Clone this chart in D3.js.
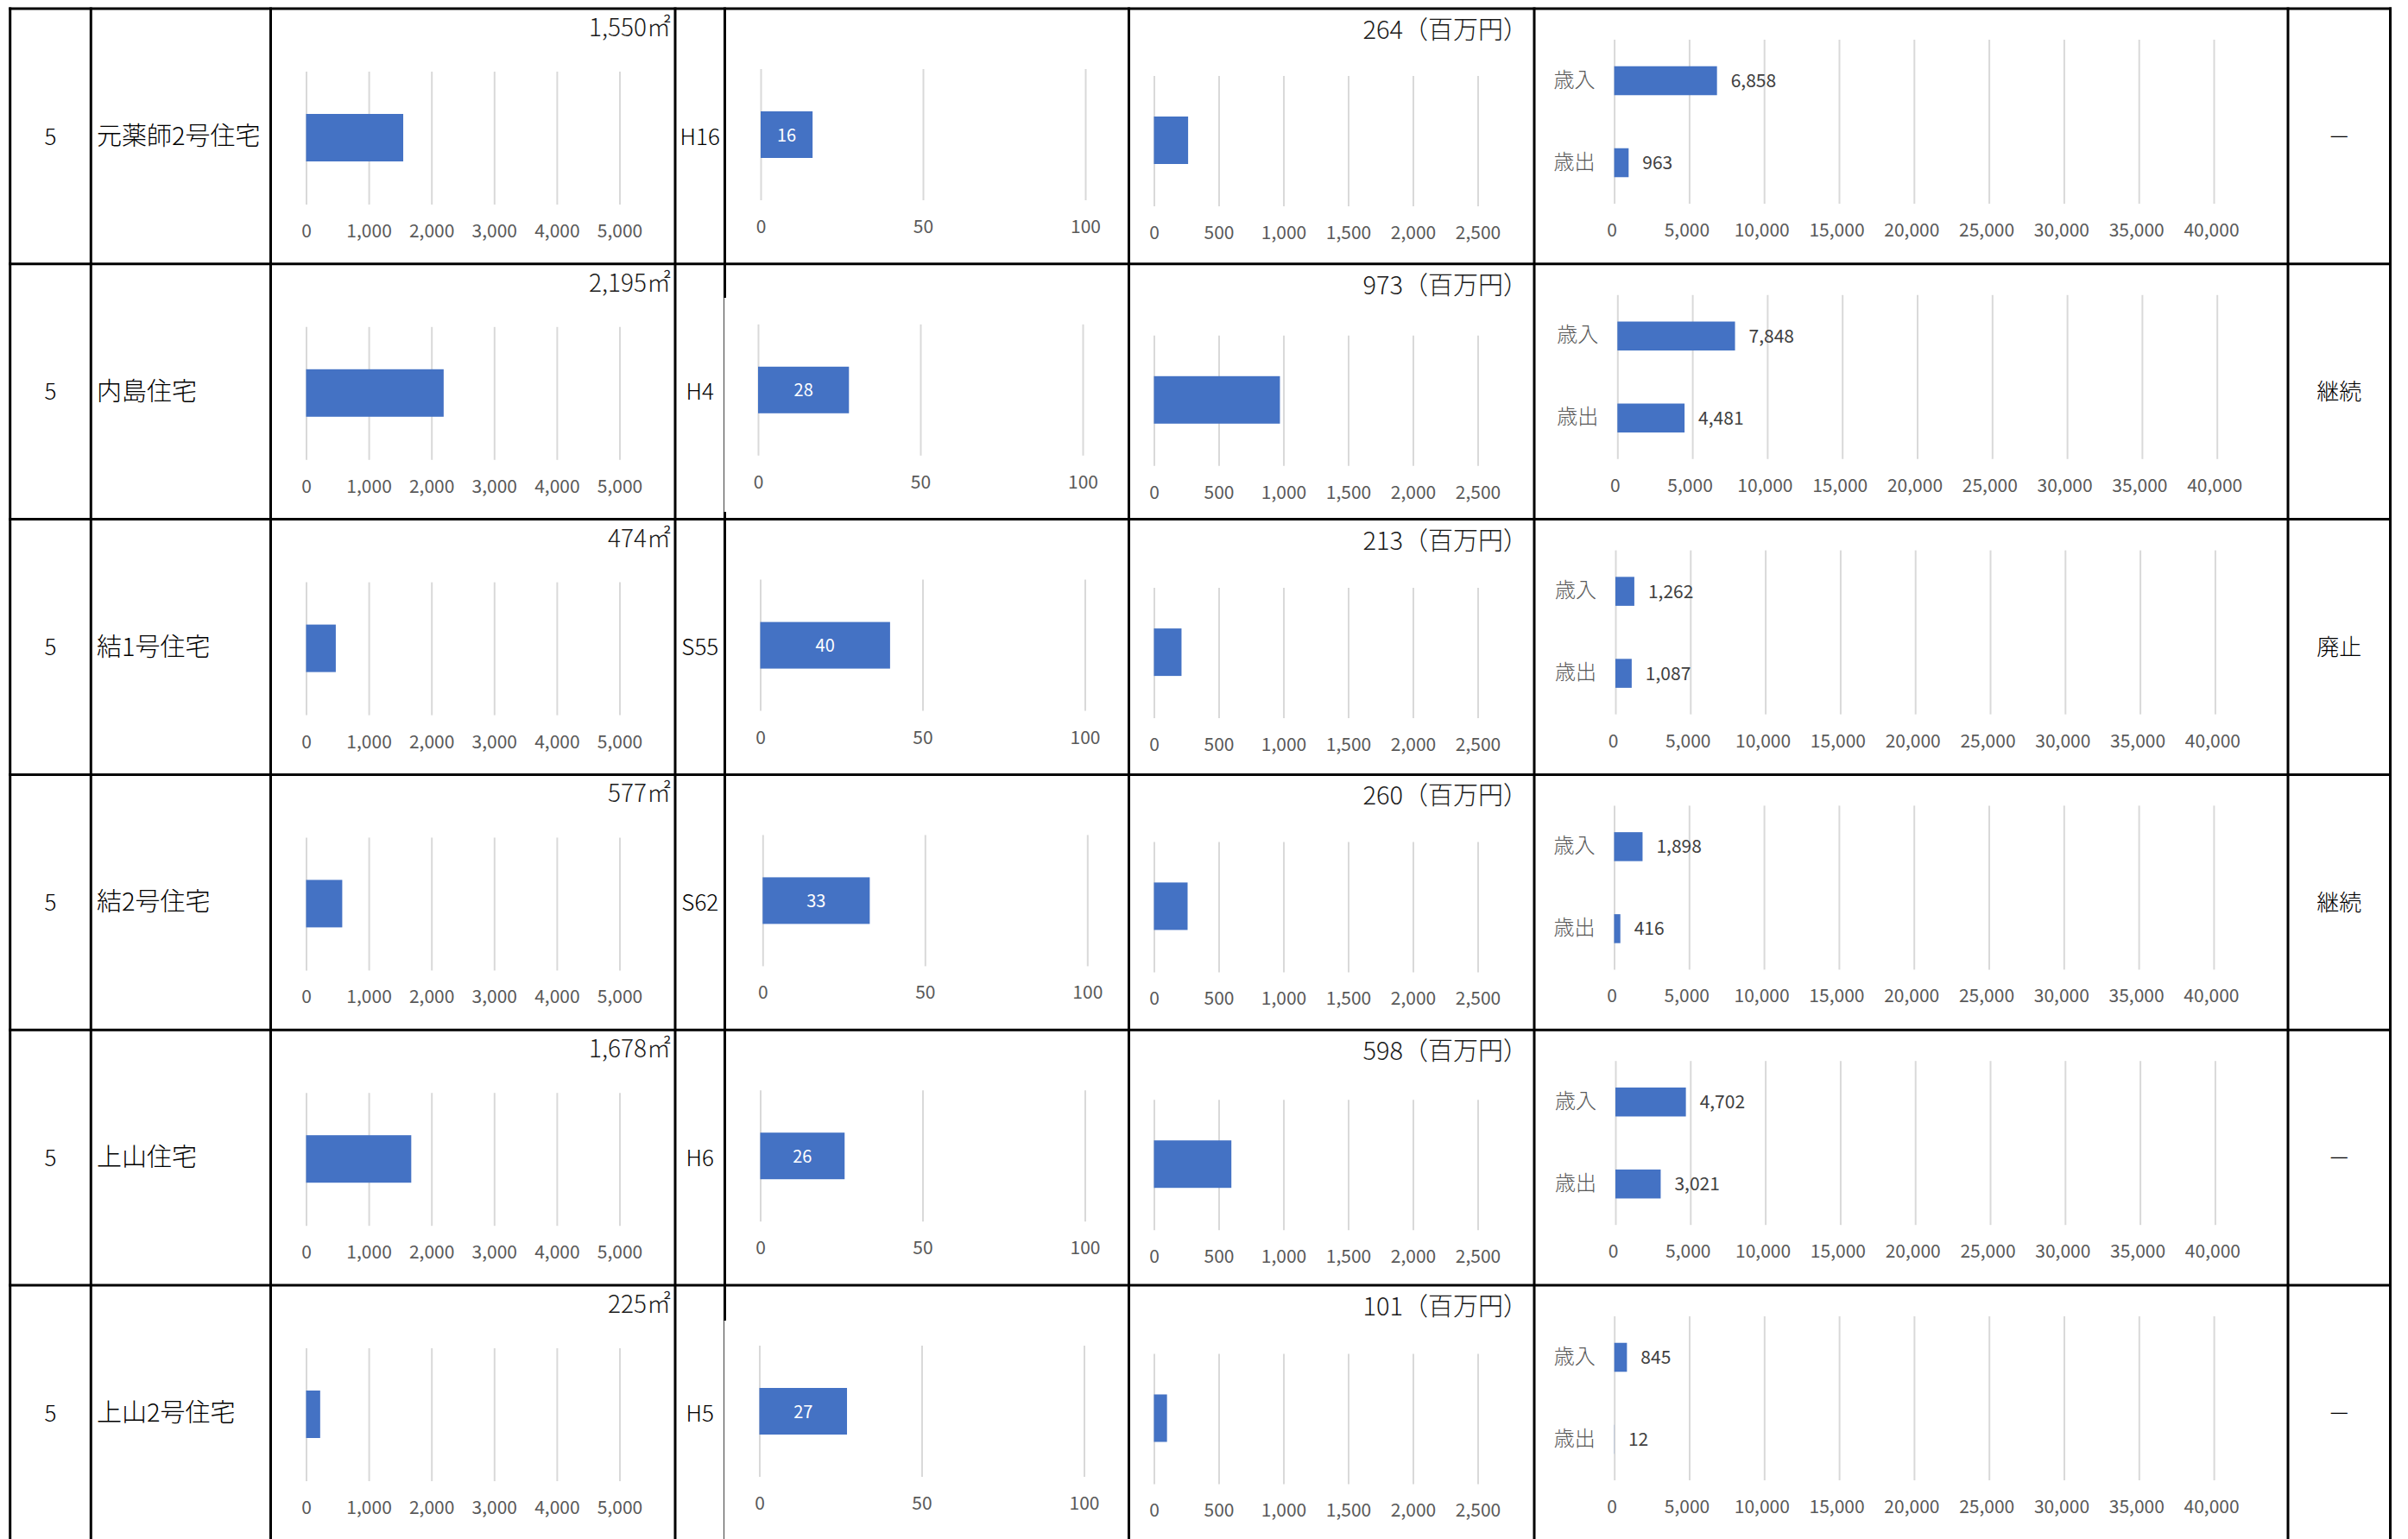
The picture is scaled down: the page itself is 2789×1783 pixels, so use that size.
<!DOCTYPE html>
<html><head><meta charset="utf-8">
<script src="https://cdn.jsdelivr.net/npm/d3@7"></script>
<style>
body{margin:0;background:#fff}
svg{display:block}
text{font-family:"Noto Sans CJK JP","Noto Sans",sans-serif;font-weight:300}
</style>
</head><body>
<svg id="c" width="2789" height="1783"></svg>
<script>
// ---------- data ----------
const rowNumbers = [5, 5, 5, 5, 5, 5];
const names = ["元薬師2号住宅", "内島住宅", "結1号住宅", "結2号住宅", "上山住宅", "上山2号住宅"];
const floorAreas = [1550, 2195, 474, 577, 1678, 225];
const builtEras = ["H16", "H4", "S55", "S62", "H6", "H5"];
const buildingAges = [16, 28, 40, 33, 26, 27];
const renewalCosts = [264, 973, 213, 260, 598, 101];
const revenues = [6858, 7848, 1262, 1898, 4702, 845];
const expenditures = [963, 4481, 1087, 416, 3021, 12];
const policies = ["－", "継続", "廃止", "継続", "－", "－"];
const financeCategories = ["歳入", "歳出"];
const areaTicks = [0, 1000, 2000, 3000, 4000, 5000];
const ageTicks = [0, 50, 100];
const costTicks = [0, 500, 1000, 1500, 2000, 2500];
const financeTicks = [0, 5000, 10000, 15000, 20000, 25000, 30000, 35000, 40000];
const areaUnit = "㎡";
const costUnit = "（百万円）";

// ---------- layout ----------
const W = 2789, H = 1783;
const tableTop = 10, rowPitch = 295.8;
const colX = [11.7, 105.3, 313.5, 782, 839.5, 1307.5, 1777, 2650, 2768.5];
const ageX0 = [881, 878, 880.5, 883.3, 880.5, 879.5];
const costDy = [0, 5, 1.5, 0, 3, 1.5];
const finX0 = [1869.6, 1873.3, 1871, 1869.5, 1871, 1869.7];
const BAR = "#4472C4", GRID = "#d9d9d9", TICK = "#595959";
const fmt = d3.format(",");

const svg = d3.select("#c");
svg.append("rect").attr("width", W).attr("height", H).attr("fill", "#fff");

function gridAxis(g, x, ticks, gridTop, gridBottom, fontSize, labelDx) {
  const axis = d3.axisBottom(x).tickValues(ticks)
    .tickSize(-(gridBottom - gridTop)).tickPadding(23).tickFormat(fmt);
  const a = g.append("g").attr("transform", `translate(0,${gridBottom})`).call(axis);
  a.select(".domain").remove();
  a.selectAll(".tick line").attr("stroke", GRID).attr("stroke-width", 2);
  a.selectAll(".tick text").attr("fill", TICK).attr("dx", labelDx || 0)
    .style("font-size", fontSize + "px")
    .style("font-family", '"Noto Sans CJK JP","Noto Sans",sans-serif')
    .style("font-weight", 400);
  return a;
}

const rows = d3.range(names.length);
rows.forEach(i => {
  const top = tableTop + i * rowPitch;
  const g = svg.append("g");

  // table texts
  g.append("text").attr("x", (colX[0] + colX[1]) / 2).attr("y", top + 146)
    .attr("text-anchor", "middle").attr("dominant-baseline", "central")
    .style("font-size", "26px").attr("fill", "#000").text(rowNumbers[i]);
  g.append("text").attr("x", 112).attr("y", top + 145)
    .attr("dominant-baseline", "central")
    .style("font-size", "29px").attr("fill", "#000").text(names[i]);
  g.append("text").attr("x", (colX[3] + colX[4]) / 2).attr("y", top + 146)
    .attr("text-anchor", "middle").attr("dominant-baseline", "central")
    .style("font-size", "26px").attr("fill", "#000").text(builtEras[i]);
  g.append("text").attr("x", (colX[7] + colX[8]) / 2).attr("y", top + 146)
    .attr("text-anchor", "middle").attr("dominant-baseline", "central")
    .style("font-size", "26px").attr("fill", "#000").text(policies[i]);

  // floor area chart
  const xa = d3.scaleLinear().domain([0, 5000]).range([354.5, 717.5]);
  gridAxis(g, xa, areaTicks, top + 73, top + 227, 21);
  g.append("rect").attr("x", xa(0)).attr("y", top + 122)
    .attr("width", xa(floorAreas[i]) - xa(0)).attr("height", 55).attr("fill", BAR);
  g.append("text").attr("x", 777).attr("y", top + 32).attr("text-anchor", "end")
    .style("font-size", "28px").attr("fill", "#1a1a1a").text(fmt(floorAreas[i]) + areaUnit);

  // building age chart
  const xg = d3.scaleLinear().domain([0, 100]).range([ageX0[i], ageX0[i] + 376]);
  gridAxis(g, xg, ageTicks, top + 70, top + 222, 21);
  g.append("rect").attr("x", xg(0)).attr("y", top + 119)
    .attr("width", xg(buildingAges[i]) - xg(0)).attr("height", 54).attr("fill", BAR);
  g.append("text").attr("x", (xg(0) + xg(buildingAges[i])) / 2).attr("y", top + 145)
    .attr("text-anchor", "middle").attr("dominant-baseline", "central")
    .style("font-size", "20px").style("font-weight", 400).attr("fill", "#fff").text(buildingAges[i]);

  // renewal cost chart
  const dy = costDy[i];
  const xc = d3.scaleLinear().domain([0, 2500]).range([1336.5, 1711.5]);
  gridAxis(g, xc, costTicks, top + 78 + dy, top + 229 + dy, 21);
  g.append("rect").attr("x", xc(0)).attr("y", top + 125 + dy)
    .attr("width", xc(renewalCosts[i]) - xc(0)).attr("height", 55).attr("fill", BAR);
  g.append("text").attr("x", 1770).attr("y", top + 35).attr("text-anchor", "end")
    .style("font-size", "29px").attr("fill", "#1a1a1a").text(renewalCosts[i] + costUnit);

  // finance chart
  const xf = d3.scaleLinear().domain([0, 40000]).range([finX0[i], finX0[i] + 694.4]);
  const yf = d3.scaleBand().domain(financeCategories).range([top + 36, top + 226])
    .paddingInner(0.647).paddingOuter(0.3235);
  gridAxis(g, xf, financeTicks, top + 36, top + 226, 21, -3);
  const fvals = [revenues[i], expenditures[i]];
  financeCategories.forEach((c, k) => {
    g.append("rect").attr("x", xf(0)).attr("y", yf(c))
      .attr("width", Math.max(0, xf(fvals[k]) - xf(0))).attr("height", yf.bandwidth())
      .attr("fill", BAR);
    g.append("text").attr("x", xf(fvals[k]) + 16).attr("y", yf(c) + yf.bandwidth() / 2 - 1.5)
      .attr("dominant-baseline", "central").style("font-weight", 400)
      .style("font-size", "21px").attr("fill", "#404040").text(fmt(fvals[k]));
    g.append("text").attr("x", xf(0) - 22).attr("y", yf(c) + yf.bandwidth() / 2 - 3.5)
      .attr("text-anchor", "end").attr("dominant-baseline", "central")
      .style("font-size", "24px").attr("fill", TICK).text(c);
  });
});

// ---------- table lines ----------
const lines = svg.append("g").attr("stroke", "#000").attr("stroke-width", 3);
rows.forEach(i => {
  const y = tableTop + i * rowPitch;
  lines.append("line").attr("x1", colX[0] - 1.5).attr("x2", colX[8] + 1.5)
    .attr("y1", y).attr("y2", y);
});
colX.forEach((x, j) => {
  if (j === 4) return;
  lines.append("line").attr("x1", x).attr("x2", x).attr("y1", tableTop - 1.5).attr("y2", H);
});
// column 4 line partly hidden by chart objects in rows 2 and 6
const hiddenSegs = [[345, 593], [1530, H]];
let yStart = tableTop - 1.5;
hiddenSegs.forEach(([a, b]) => {
  lines.append("line").attr("x1", colX[4]).attr("x2", colX[4]).attr("y1", yStart).attr("y2", a);
  svg.append("line").attr("x1", colX[4] - 1).attr("x2", colX[4] - 1).attr("y1", a).attr("y2", b)
    .attr("stroke", "#555").attr("stroke-width", 1.2);
  yStart = b;
});
if (yStart < H) lines.append("line").attr("x1", colX[4]).attr("x2", colX[4]).attr("y1", yStart).attr("y2", H);
</script>
</body></html>
